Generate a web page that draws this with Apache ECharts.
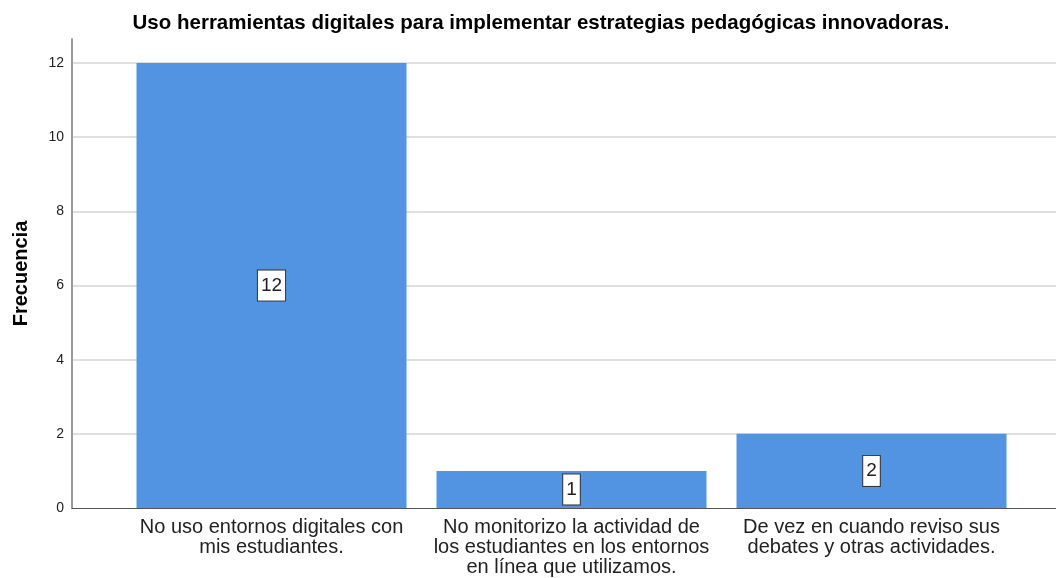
<!DOCTYPE html>
<html>
<head>
<meta charset="utf-8">
<script src="https://cdn.jsdelivr.net/npm/echarts@6/dist/echarts.min.js"></script>
<style>
  html, body { margin: 0; padding: 0; background: #fff; }
  #chart { width: 1056px; height: 578px; }
</style>
</head>
<body>
<div id="chart"></div>
<script>
// categorías y frecuencias
const categories = [
  'No uso entornos digitales con\nmis estudiantes.',
  'No monitorizo la actividad de\nlos estudiantes en los entornos\nen línea que utilizamos.',
  'De vez en cuando reviso sus\ndebates y otras actividades.'
]
const frequencies = [12, 1, 2]
const yTicks = [0, 2, 4, 6, 8, 10, 12]

const yMax = 12.65
const font = 'Liberation Sans, Arial, sans-serif'

const chart = echarts.init(document.getElementById('chart'))
chart.setOption({
  animation: false,
  title: {
    text: 'Uso herramientas digitales para implementar estrategias pedagógicas innovadoras.',
    left: 536,
    top: 8,
    textAlign: 'center',
    textStyle: { fontFamily: font, fontSize: 20.5, fontWeight: 'bold', color: '#000' }
  },
  grid: [
    // rejilla completa: eje Y y líneas
    { left: 72, right: 0, top: 39, bottom: 70 },
    // rejilla de barras
    { left: 121.5, right: 34.5, top: 39, bottom: 70 }
  ],
  xAxis: [{
    gridIndex: 0,
    type: 'value',
    min: 0,
    max: 1,
    axisLine: { show: true, lineStyle: { color: '#555', width: 1 } },
    axisTick: { show: false },
    axisLabel: { show: false },
    splitLine: { show: false }
  }, {
    gridIndex: 1,
    type: 'category',
    data: categories,
    axisLine: { show: false },
    axisTick: { show: false },
    axisLabel: {
      margin: 9,
      interval: 0,
      fontFamily: font,
      fontSize: 20,
      lineHeight: 20,
      color: '#222'
    }
  }],
  yAxis: [{
    gridIndex: 0,
    type: 'value',
    min: 0,
    max: yMax,
    interval: 2,
    name: 'Frecuencia',
    nameLocation: 'middle',
    nameGap: 41,
    nameTextStyle: { fontFamily: font, fontSize: 20, fontWeight: 'bold', color: '#000' },
    axisLine: { show: true, lineStyle: { color: '#9a9a9a', width: 2 } },
    axisTick: { show: false },
    axisLabel: {
      margin: 8,
      fontFamily: font,
      fontSize: 14,
      color: '#222',
      showMaxLabel: false,
      formatter: v => yTicks.includes(v) ? String(v) : ''
    },
    splitLine: { show: true, showMaxLine: false, showMinLine: false, lineStyle: { color: '#d4d4d4', width: 1.5 } }
  }, {
    gridIndex: 1,
    type: 'value',
    min: 0,
    max: yMax,
    show: false,
    splitLine: { show: false }
  }],
  series: [{
    name: 'Frecuencia',
    type: 'bar',
    xAxisIndex: 1,
    yAxisIndex: 1,
    data: frequencies,
    barWidth: '90%',
    itemStyle: { color: '#5294e2' },
    label: {
      show: true,
      position: 'inside',
      fontFamily: font,
      fontSize: 19,
      color: '#222',
      backgroundColor: '#fff',
      borderColor: '#333',
      borderWidth: 1,
      padding: [6, 3, 5, 3]
    }
  }]
})
</script>
</body>
</html>
